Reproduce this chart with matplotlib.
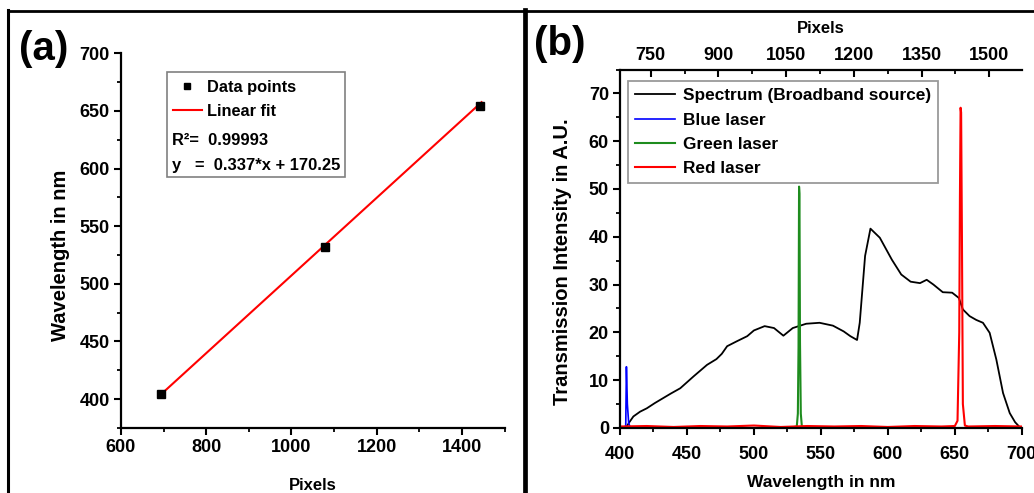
import numpy as np
import matplotlib
matplotlib.use("Agg")
import matplotlib.pyplot as plt
from matplotlib.lines import Line2D
from matplotlib.patches import Rectangle
from matplotlib.ticker import MultipleLocator, FixedLocator

plt.rcParams['font.family'] = ['Liberation Sans', 'DejaVu Sans']
plt.rcParams['font.weight'] = 'bold'

# --- panel (a): calibration data ---
pixels = [694, 1079, 1442]
wavelength = [404.3, 532.0, 654.4]
slope = 0.337
intercept = 170.25
fit_px = [694, 1446]
r2_text = "R\u00b2=  0.99993"
eq_text = "y   =  0.337*x + 170.25"

# --- panel (b): spectra ---
spec_nm = [405, 407, 410, 415, 420, 426, 432, 438, 445, 455, 465, 472, 476, 480, 487,
           495, 500, 508, 515, 522, 529, 539, 549, 559, 567, 572, 577, 579, 583, 587,
           594, 603, 610, 617, 624, 629, 634, 641, 648, 653, 656, 661, 666, 671, 676,
           681, 686, 691, 695, 699]
spec_val = [0.3, 1.2, 2.4, 3.4, 4.1, 5.2, 6.2, 7.2, 8.3, 10.8, 13.2, 14.4, 15.5, 17.1, 18.1,
            19.2, 20.4, 21.3, 20.9, 19.3, 20.9, 21.8, 22.0, 21.4, 20.2, 19.2, 18.4, 22.0, 36.0, 41.7,
            39.8, 35.2, 32.1, 30.6, 30.3, 31.0, 30.0, 28.4, 28.3, 27.2, 24.8, 23.4, 22.6, 22.0, 19.9,
            14.3, 7.3, 3.1, 1.2, 0.0]

blue_nm = [403.5, 404.3, 404.8, 405.5, 406.5, 407.5]
blue_val = [0.2, 0.5, 12.8, 5.0, 1.0, 0.2]

green_nm = [530, 532.0, 532.8, 533.3, 533.7, 534.0, 534.4, 535.0, 535.8, 538]
green_val = [0.2, 0.3, 3.0, 17.0, 50.5, 49.0, 18.0, 3.0, 0.3, 0.2]

red_nm = [400, 420, 440, 460, 480, 500, 520, 540, 560, 580, 600, 620, 640, 650, 652,
          653.3, 653.8, 654.3, 654.7, 655.3, 656.0, 657.5, 660, 680, 700]
red_val = [0.3, 0.4, 0.2, 0.4, 0.3, 0.5, 0.2, 0.4, 0.3, 0.4, 0.2, 0.4, 0.3, 0.4, 1.5,
           20.0, 48.0, 67.0, 66.0, 40.0, 5.0, 0.5, 0.3, 0.4, 0.3]

px_ticks = [750, 900, 1050, 1200, 1350, 1500]
px_minor = [675, 825, 975, 1125, 1275, 1425, 1575]

fig = plt.figure(figsize=(10.34, 4.93), dpi=100)

def style_axes(ax, xpad=3):
    ax.spines['right'].set_visible(False)
    ax.spines['top'].set_visible(False)
    for s in ('left', 'bottom'):
        ax.spines[s].set_linewidth(1.6)
    ax.tick_params(which='major', direction='out', length=5, width=1.5, labelsize=13, pad=3)
    ax.tick_params(which='minor', direction='out', length=3, width=1.3)
    ax.tick_params(axis='x', which='major', pad=xpad)
    for lab in ax.get_xticklabels() + ax.get_yticklabels():
        lab.set_fontweight('bold')

# ---------- panel (a) ----------
axa = fig.add_axes([0.117, 0.132, 0.371, 0.760])
fit_wl = [slope * p + intercept for p in fit_px]
axa.plot(fit_px, fit_wl, color='#ff0000', lw=1.5, zorder=2)
axa.plot(pixels, wavelength, 's', color='black', ms=5.5, zorder=3)
axa.set_xlim(600, 1500)
axa.set_ylim(375, 700)
axa.xaxis.set_major_locator(MultipleLocator(200))
axa.xaxis.set_minor_locator(MultipleLocator(100))
axa.yaxis.set_major_locator(MultipleLocator(50))
axa.yaxis.set_minor_locator(MultipleLocator(25))
style_axes(axa)
axa.set_xlabel("Pixels", fontsize=12, fontweight='bold', labelpad=16)
axa.set_ylabel("Wavelength in nm", fontsize=14.5, fontweight='bold')
axa.yaxis.set_label_coords(-0.133, 0.461)

handles = [Line2D([], [], marker='s', ls='none', color='black', ms=4),
           Line2D([], [], color='#ff0000', lw=1.5)]
leg = axa.legend(handles, ["Data points", "Linear fit"], loc='upper left',
                 bbox_to_anchor=(0.127, 0.937), frameon=False, fontsize=11.8,
                 handlelength=1.75, handletextpad=0.3, labelspacing=0.55, borderpad=0.2,
                 borderaxespad=0)
for t in leg.get_texts():
    t.set_fontweight('bold')
axa.text(0.133, 0.768, r2_text, transform=axa.transAxes, fontsize=11.9, fontweight='bold', va='center')
axa.text(0.133, 0.701, eq_text, transform=axa.transAxes, fontsize=11.9, fontweight='bold', va='center')
axa.add_patch(Rectangle((0.12, 0.669), 0.463, 0.280, transform=axa.transAxes,
                        fill=False, ec='#808080', lw=1.2, zorder=5))

# ---------- panel (b) ----------
axb = fig.add_axes([0.5996, 0.132, 0.3886, 0.727])
axb.plot(spec_nm, spec_val, color='black', lw=1.3, label="Spectrum (Broadband source)")
axb.plot(blue_nm, blue_val, color='#0000ff', lw=1.2, label="Blue laser")
axb.plot(green_nm, green_val, color='#1e8c1e', lw=1.5, label="Green laser")
axb.plot(red_nm, red_val, color='#ff0000', lw=1.5, label="Red laser")
axb.set_xlim(400, 700)
axb.set_ylim(0, 75)
axb.xaxis.set_major_locator(MultipleLocator(50))
axb.xaxis.set_minor_locator(MultipleLocator(25))
axb.yaxis.set_major_locator(MultipleLocator(10))
axb.yaxis.set_minor_locator(MultipleLocator(5))
style_axes(axb, xpad=8)
axb.set_xlabel("Wavelength in nm", fontsize=12.5, fontweight='bold', labelpad=9)
axb.set_ylabel("Transmission Intensity in A.U.", fontsize=14.5, fontweight='bold')
axb.yaxis.set_label_coords(-0.119, 0.463)

def nm_to_px(x):
    return (np.asarray(x) - intercept) / slope

def px_to_nm(p):
    return slope * np.asarray(p) + intercept

top = axb.secondary_xaxis('top', functions=(nm_to_px, px_to_nm))
top.spines['top'].set_linewidth(1.6)
top.xaxis.set_major_locator(FixedLocator(px_ticks))
top.xaxis.set_minor_locator(FixedLocator(px_minor))
top.tick_params(which='major', direction='in', length=5, width=1.5, labelsize=13, pad=4)
top.tick_params(which='minor', direction='in', length=3, width=1.3)
for lab in top.get_xticklabels():
    lab.set_fontweight('bold')
top.set_xlabel("Pixels", fontsize=12, fontweight='bold', labelpad=10)

legb = axb.legend(loc='upper left', bbox_to_anchor=(0.02, 0.967), fontsize=12.4,
                  handlelength=2.3, handletextpad=0.5, labelspacing=0.54,
                  fancybox=False, edgecolor='#808080', borderpad=0.4, borderaxespad=0)
legb.get_frame().set_linewidth(1.3)
for t in legb.get_texts():
    t.set_fontweight('bold')

# panel letters
fig.text(0.018, 0.94, "(a)", fontsize=29, fontweight='bold', va='top')
fig.text(0.516, 0.949, "(b)", fontsize=29, fontweight='bold', va='top')

# panel frames
fig.add_artist(Line2D([0.008, 1.0], [0.978, 0.978], transform=fig.transFigure, color='black', lw=2))
fig.add_artist(Line2D([0.008, 0.008], [0.0, 0.979], transform=fig.transFigure, color='black', lw=2.2))
fig.add_artist(Line2D([0.5075, 0.5075], [0.0, 0.979], transform=fig.transFigure, color='black', lw=3.4))

fig.savefig("out.png", dpi=100)
